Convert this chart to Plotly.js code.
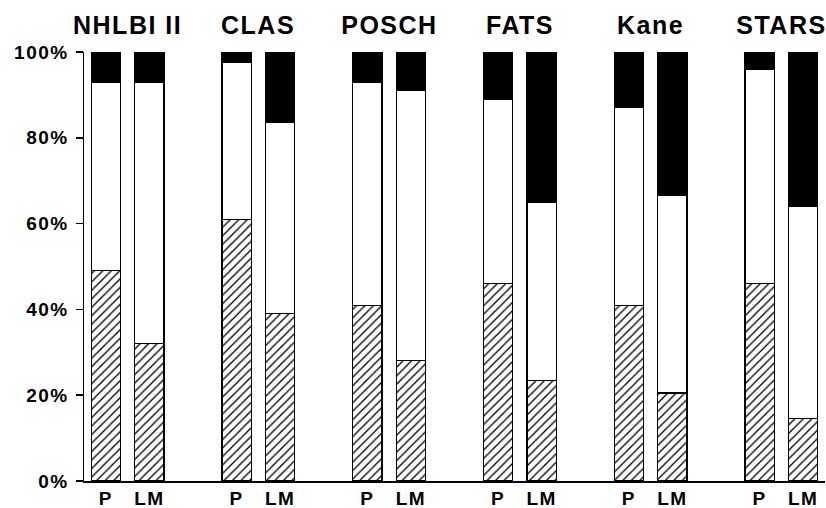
<!DOCTYPE html>
<html>
<head>
<meta charset="utf-8">
<script src="https://cdn.plot.ly/plotly-3.0.1.min.js"></script>
<style>
  html, body { margin: 0; padding: 0; background: #fff; }
  #chart { width: 826px; height: 508px; }
  #chart text { letter-spacing: 1.5px; }
</style>
</head>
<body>
<div id="chart"></div>
<script>
// Studies (groups) and arms within each study
const studies = ["NHLBI II", "CLAS", "POSCH", "FATS", "Kane", "STARS"];
const arms = ["P", "LM"];

// Segment sizes in percent, ordered study by study: P then LM
const hatchedPct = [49, 32, 61, 39, 41, 28, 46, 23.5, 41, 20.5, 46, 14.5];
const whitePct   = [44, 61, 36.5, 44.5, 52, 63, 43, 41.5, 46, 46, 50, 49.5];
const blackPct   = [7, 7, 2.5, 16.5, 7, 9, 11, 35, 13, 33.5, 4, 36];

const yTickVals = [0, 20, 40, 60, 80, 100];
const yTickText = ["0%", "20%", "40%", "60%", "80%", "100%"];

// positions: each study takes 3 slots (2 bars + gap)
const xs = [], tickText = [];
studies.forEach((s, g) => arms.forEach((a, i) => { xs.push(g * 3 + i); tickText.push(a); }));

const font = "Liberation Sans, Arial, sans-serif";
const outline = { color: "#000", width: 1.2 };

const traces = [
  { type: "bar", x: xs, y: hatchedPct, width: 0.67,
    marker: { color: "#fff", line: outline,
      pattern: { shape: "/", fgcolor: "#000", bgcolor: "#fff", size: 6, solidity: 0.22 } },
    hoverinfo: "skip" },
  { type: "bar", x: xs, y: whitePct, width: 0.67,
    marker: { color: "#fff", line: outline }, hoverinfo: "skip" },
  { type: "bar", x: xs, y: blackPct, width: 0.67,
    marker: { color: "#000", line: outline }, hoverinfo: "skip" }
];

const annotations = studies.map((s, g) => ({
  text: s, x: g * 3 + 0.5, xref: "x", y: 1, yref: "paper",
  yanchor: "middle", yshift: 27, showarrow: false,
  font: { family: font, size: 25, color: "#000", weight: "bold" }
}));

const layout = {
  width: 826, height: 508,
  margin: { l: 84, r: 1, t: 52, b: 27 },
  paper_bgcolor: "#fff", plot_bgcolor: "#fff",
  barmode: "stack", showlegend: false,
  xaxis: {
    range: [-0.5, 16.5], tickvals: xs, ticktext: tickText,
    showgrid: false, zeroline: false, showline: true, linecolor: "#000", linewidth: 1.5,
    ticks: "", tickfont: { family: font, size: 19, color: "#000", weight: "bold" }
  },
  yaxis: {
    range: [0, 100], tickvals: yTickVals, ticktext: yTickText,
    showgrid: false, zeroline: false, showline: true, linecolor: "#000", linewidth: 1.5,
    ticks: "outside", ticklen: 7, tickwidth: 1.5, tickcolor: "#000", ticklabelstandoff: 3,
    tickfont: { family: font, size: 19, color: "#000", weight: "bold" }
  },
  annotations: annotations
};

Plotly.newPlot("chart", traces, layout, { staticPlot: true });
</script>
</body>
</html>
